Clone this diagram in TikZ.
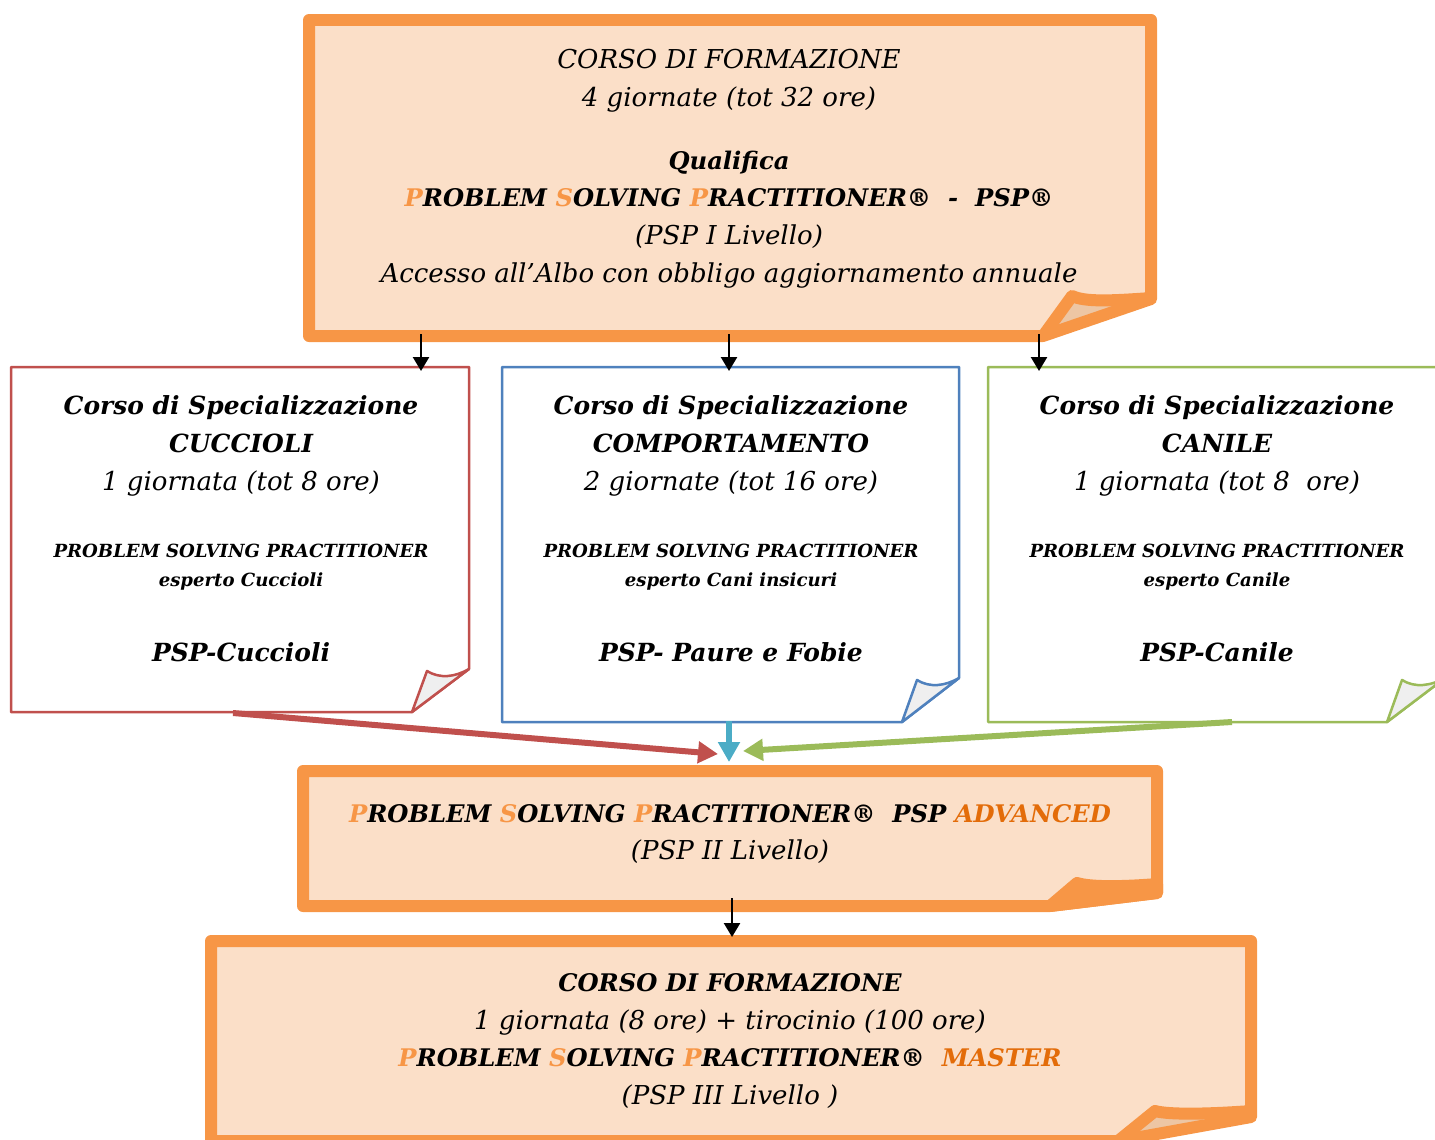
\documentclass[tikz,border=0pt]{standalone}
\usepackage{fontspec}
\setmainfont{DejaVu Serif}
\usetikzlibrary{arrows.meta}

\definecolor{psporange}{HTML}{F79646}
\definecolor{pspdark}{HTML}{E36C09}
\definecolor{pspfill}{HTML}{FBDFC8}
\definecolor{pspfold}{HTML}{EDC6A4}
\definecolor{cucred}{HTML}{C0504D}
\definecolor{comblue}{HTML}{4F81BD}
\definecolor{cangreen}{HTML}{9BBB59}
\definecolor{arrblue}{HTML}{4BACC6}
\definecolor{foldgray}{HTML}{EFEFEF}

\newcommand{\ini}[1]{\textcolor{psporange}{#1}}
\newcommand{\bx}[1]{{\fontsize{13.8}{21.5}\selectfont\bfseries #1}}
\newcommand{\md}[1]{{\fontsize{14.8}{21.5}\selectfont\mdseries #1}}

\tikzset{
  orangebox/.style={draw=psporange, line width=0.24cm, line join=round},
  thinbox/.style={line width=0.05cm, line join=round},
  txt/.style={align=center, font=\fontsize{14.8}{21.5}\selectfont\itshape, inner sep=0pt},
  headtxt/.style={align=center, font=\fontsize{14.2}{21.5}\selectfont\bfseries\itshape, inner sep=0pt},
  smalltxt/.style={align=center, font=\fontsize{10.3}{16.4}\selectfont\bfseries\itshape, inner sep=0pt},
  smallarrow/.style={-{Triangle[width=0.32cm,length=0.28cm]}, line width=0.05cm},
  fatarrow/.style={-{Triangle[width=0.42cm,length=0.4cm]}, line width=0.12cm},
}

\begin{document}
\begin{tikzpicture}[x=0.02cm,y=-0.02cm]
\useasboundingbox (0,0) rectangle (1435,1139);
\clip (0,0) rectangle (1435,1139);

%top box
\fill[pspfill] (309,20) -- (1151,20) -- (1151,298) .. controls (1110,301) and (1085,302) .. (1072,296) -- (1043,336) -- (309,336) -- cycle;
\fill[pspfold] (1072,296) .. controls (1085,302) and (1110,301) .. (1151,298) -- (1043,336) -- cycle;
\draw[orangebox] (309,20) -- (1151,20) -- (1151,299) -- (1043,336) -- (309,336) -- cycle;
\draw[orangebox] (1151,298) .. controls (1110,301) and (1085,302) .. (1072,296) -- (1043,336);

\node[txt] (top-a) at (729,81) {CORSO DI FORMAZIONE\\4 giornate (tot 32 ore)};
\node[txt] (top-b) at (729,219.5) {\bx{Qualifica}\\
  \bx{\ini{P}ROBLEM \ini{S}OLVING \ini{P}RACTITIONER®\ \ -\ \ PSP®}\\
  (PSP I Livello)\\
  Accesso all’Albo con obbligo aggiornamento annuale};

%cuccioli
\filldraw[thinbox, draw=cucred, fill=white] (11,367) -- (469,367) -- (469,669) -- (412,712) -- (11,712) -- cycle;
\filldraw[thinbox, draw=cucred, fill=foldgray] (427,671) .. controls (440,679) and (455,677) .. (469,669) -- (412,712) -- cycle;
\node[headtxt] (cuc-a) at (241,446) {Corso di Specializzazione\\CUCCIOLI\\\md{1 giornata (tot 8 ore)}};
\node[smalltxt] (cuc-b) at (241,567.5) {PROBLEM SOLVING PRACTITIONER\\esperto Cuccioli};
\node[headtxt] (cuc-c) at (241,652) {PSP-Cuccioli};

%comportamento
\filldraw[thinbox, draw=comblue, fill=white] (502,367) -- (959,367) -- (959,678) -- (902,722) -- (502,722) -- cycle;
\filldraw[thinbox, draw=comblue, fill=foldgray] (917,680) .. controls (930,688) and (945,686) .. (959,678) -- (902,722) -- cycle;
\node[headtxt] (com-a) at (731,446) {Corso di Specializzazione\\COMPORTAMENTO\\\md{2 giornate (tot 16 ore)}};
\node[smalltxt] (com-b) at (731,567.5) {PROBLEM SOLVING PRACTITIONER\\esperto Cani insicuri};
\node[headtxt] (com-c) at (731,652) {PSP- Paure e Fobie};

%canile
\filldraw[thinbox, draw=cangreen, fill=white] (988,367) -- (1445,367) -- (1445,678) -- (1387,722) -- (988,722) -- cycle;
\filldraw[thinbox, draw=cangreen, fill=foldgray] (1402,680) .. controls (1415,688) and (1430,686) .. (1445,678) -- (1387,722) -- cycle;
\node[headtxt] (can-a) at (1217,446) {Corso di Specializzazione\\CANILE\\\md{1 giornata (tot 8\ \ ore)}};
\node[smalltxt] (can-b) at (1217,567.5) {PROBLEM SOLVING PRACTITIONER\\esperto Canile};
\node[headtxt] (can-c) at (1217,652) {PSP-Canile};

%advanced box
\fill[pspfill] (303,771) -- (1157,771) -- (1157,884) .. controls (1120,887) and (1090,887) .. (1077,883) -- (1050,906) -- (303,906) -- cycle;
\draw[orangebox, fill=psporange] (1077,883) .. controls (1090,887) and (1120,887) .. (1157,884) -- (1157,893) -- (1050,906) -- cycle;
\draw[orangebox] (303,771) -- (1157,771) -- (1157,893) -- (1050,906) -- (303,906) -- cycle;
\node[txt] (adv) at (730,834) {\bx{\ini{P}ROBLEM \ini{S}OLVING \ini{P}RACTITIONER®\ \ PSP \textcolor{pspdark}{ADVANCED}}\\(PSP II Livello)};

%master box
\fill[pspfill] (211,941) -- (1251,941) -- (1251,1111) .. controls (1210,1114) and (1170,1115) .. (1155,1111) -- (1118,1141) -- (211,1141) -- cycle;
\fill[pspfold] (1155,1111) .. controls (1170,1115) and (1210,1114) .. (1251,1111) -- (1118,1141) -- cycle;
\draw[orangebox] (211,941) -- (1251,941) -- (1251,1117) -- (1118,1141) -- (211,1141) -- cycle;
\draw[orangebox] (1251,1111) .. controls (1210,1114) and (1170,1115) .. (1155,1111) -- (1118,1141);
\node[txt] (mas) at (730,1041) {\bx{CORSO DI FORMAZIONE}\\
  1 giornata (8 ore) + tirocinio (100 ore)\\
  \bx{\ini{P}ROBLEM \ini{S}OLVING \ini{P}RACTITIONER®\ \ \textcolor{pspdark}{MASTER}}\\
  (PSP III Livello )};

%arrows
\coordinate (top-o1) at (421,334);
\coordinate (top-o2) at (729,334);
\coordinate (top-o3) at (1039,334);
\coordinate (cuc-in) at (421,371);
\coordinate (com-in) at (729,371);
\coordinate (can-in) at (1039,371);
\coordinate (cuc-out) at (233,713);
\coordinate (com-out) at (729,721);
\coordinate (can-out) at (1232,722);
\coordinate (adv-l) at (718,754);
\coordinate (adv-m) at (729,762);
\coordinate (adv-r) at (743,751);
\coordinate (adv-out) at (732,898);
\coordinate (mas-in) at (732,937);

\draw[smallarrow] (top-o1) -- (cuc-in);
\draw[smallarrow] (top-o2) -- (com-in);
\draw[smallarrow] (top-o3) -- (can-in);
\draw[fatarrow, cucred] (cuc-out) -- (adv-l);
\draw[fatarrow, arrblue] (com-out) -- (adv-m);
\draw[fatarrow, cangreen] (can-out) -- (adv-r);
\draw[smallarrow] (adv-out) -- (mas-in);
\end{tikzpicture}
\end{document}
